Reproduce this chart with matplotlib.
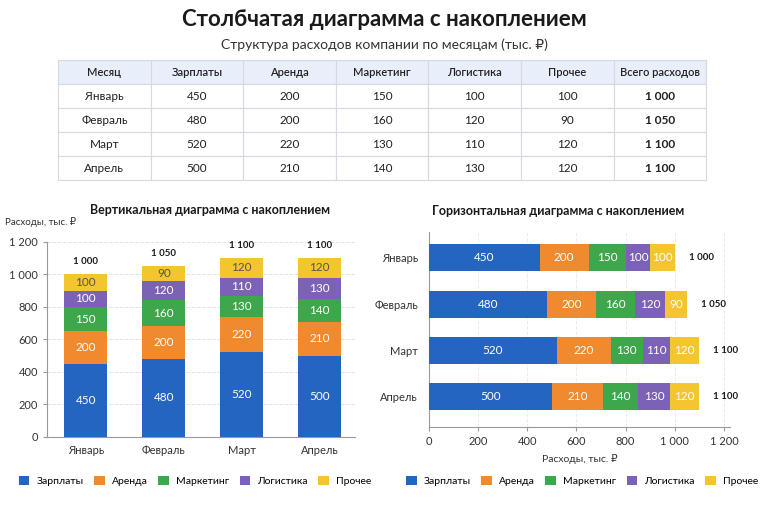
import numpy as np
import matplotlib
matplotlib.use('Agg')
import matplotlib.pyplot as plt

plt.rcParams['font.family'] = ['Lato', 'DejaVu Sans']

months = ['Январь', 'Февраль', 'Март', 'Апрель']
categories = ['Зарплаты', 'Аренда', 'Маркетинг', 'Логистика', 'Прочее']
salaries = [450, 480, 520, 500]
rent = [200, 200, 220, 210]
marketing = [150, 160, 130, 140]
logistics = [100, 120, 110, 130]
other = [100, 90, 120, 120]
series = [salaries, rent, marketing, logistics, other]
colors = ['#2565c2', '#ef8a2e', '#3ea64b', '#7b62b6', '#f4c52e']
totals = [sum(v) for v in zip(*series)]


def fmt(v):
    return f"{v:,}".replace(",", " ")


fig = plt.figure(figsize=(7.68, 5.12), dpi=100)
fig.text(0.5, 0.962, 'Столбчатая диаграмма с накоплением', ha='center', va='center',
         fontsize=16, fontweight='bold', color='#1a1a1a')
fig.text(0.5, 0.913, 'Структура расходов компании по месяцам (тыс. ₽)', ha='center', va='center',
         fontsize=10, color='#333333')

# table
tax = fig.add_axes([0.0755, 0.648, 0.844, 0.234])
tax.axis('off')
header = ['Месяц'] + categories + ['Всего расходов']
rows = [[m] + [str(s[i]) for s in series] + [fmt(totals[i])] for i, m in enumerate(months)]
tbl = tax.table(cellText=rows, colLabels=header, cellLoc='center', bbox=[0, 0, 1, 1])
tbl.auto_set_font_size(False)
for (r, c), cell in tbl.get_celld().items():
    cell.set_edgecolor('#d5dae2')
    cell.set_linewidth(0.8)
    cell.get_text().set_fontsize(8.5)
    cell.get_text().set_color('#222222')
    if r == 0:
        cell.set_facecolor('#e9effa')
        cell.get_text().set_fontsize(8)
        cell.get_text().set_fontweight('semibold')
    elif c == len(header) - 1:
        cell.get_text().set_fontweight('bold')

# vertical stacked
ax1 = fig.add_axes([0.061, 0.1465, 0.401, 0.381])
x = np.arange(len(months))
bottom = np.zeros(len(months))
for vals, col, name in zip(series, colors, categories):
    bars = ax1.bar(x, vals, 0.55, bottom=bottom, color=col, label=name, zorder=3)
    tc = '#555555' if name == 'Прочее' else 'white'
    for b, v in zip(bars, vals):
        ax1.text(b.get_x() + b.get_width() / 2, b.get_y() + v / 2, str(v), ha='center',
                 va='center', fontsize=8.5, color=tc, zorder=4)
    bottom += vals
for xi, t in zip(x, totals):
    ax1.annotate(fmt(t), (xi, t), xytext=(0, 6), textcoords='offset points', ha='center',
                 va='bottom', fontsize=7, fontweight='bold', color='#1a1a1a')
ax1.set_xlim(-0.5, 3.45)
ax1.set_ylim(0, 1200)
ax1.set_yticks(range(0, 1201, 200))
ax1.set_yticklabels([fmt(v) for v in range(0, 1201, 200)])
ax1.set_xticks(x)
ax1.set_xticklabels(months)
ax1.grid(axis='y', color='#e3e3e3', linestyle='--', linewidth=0.7, zorder=0)
for s in ['top', 'right']:
    ax1.spines[s].set_visible(False)
ax1.spines['left'].set_color('#999999')
ax1.spines['bottom'].set_color('#999999')
ax1.tick_params(axis='y', labelsize=8, colors='#333333', length=3, color='#999999')
ax1.tick_params(axis='x', labelsize=8, colors='#333333', length=0, pad=6)
ax1.set_title('Вертикальная диаграмма с накоплением', fontsize=9, fontweight='bold',
              color='#1a1a1a', pad=20, x=0.53)
fig.text(0.007, 0.566, 'Расходы, тыс. ₽', fontsize=7, color='#333333', va='center')
h1, l1 = ax1.get_legend_handles_labels()
fig.legend(h1, l1, loc='center', bbox_to_anchor=(0.254, 0.06), ncol=5, frameon=False,
           fontsize=7.5, handlelength=1.0, handleheight=1.0, columnspacing=1.0, handletextpad=0.7)

# horizontal stacked
ax2 = fig.add_axes([0.5586, 0.166, 0.392, 0.381])
y = np.arange(len(months))
left = np.zeros(len(months))
for vals, col, name in zip(series, colors, categories):
    bars = ax2.barh(y, vals, 0.58, left=left, color=col, label=name, zorder=3)
    for b, v in zip(bars, vals):
        ax2.text(b.get_x() + v / 2, b.get_y() + b.get_height() / 2, str(v), ha='center',
                 va='center', fontsize=8.5, color='white', zorder=4)
    left += vals
for yi, t in zip(y, totals):
    ax2.annotate(fmt(t), (t, yi), xytext=(10, 0), textcoords='offset points', ha='left',
                 va='center', fontsize=7, fontweight='bold', color='#1a1a1a')
ax2.set_ylim(3.65, -0.56)
ax2.set_xlim(0, 1225)
ax2.set_xticks(range(0, 1201, 200))
ax2.set_xticklabels([fmt(v) for v in range(0, 1201, 200)])
ax2.set_yticks(y)
ax2.set_yticklabels(months)
ax2.grid(axis='x', color='#ececec', linestyle='--', linewidth=0.7, zorder=0)
for s in ['top', 'right']:
    ax2.spines[s].set_visible(False)
ax2.spines['left'].set_color('#999999')
ax2.spines['bottom'].set_color('#999999')
ax2.tick_params(axis='x', labelsize=8, colors='#333333', length=3, color='#999999')
ax2.tick_params(axis='y', labelsize=8, colors='#333333', length=0, pad=8)
ax2.set_xlabel('Расходы, тыс. ₽', fontsize=7.5, color='#333333', labelpad=5)
ax2.set_title('Горизонтальная диаграмма с накоплением', fontsize=9, fontweight='bold',
              color='#1a1a1a', pad=12, x=0.43)
h2, l2 = ax2.get_legend_handles_labels()
fig.legend(h2, l2, loc='center', bbox_to_anchor=(0.758, 0.06), ncol=5, frameon=False,
           fontsize=7.5, handlelength=1.0, handleheight=1.0, columnspacing=1.0, handletextpad=0.7)

fig.savefig('out.png', dpi=100)
